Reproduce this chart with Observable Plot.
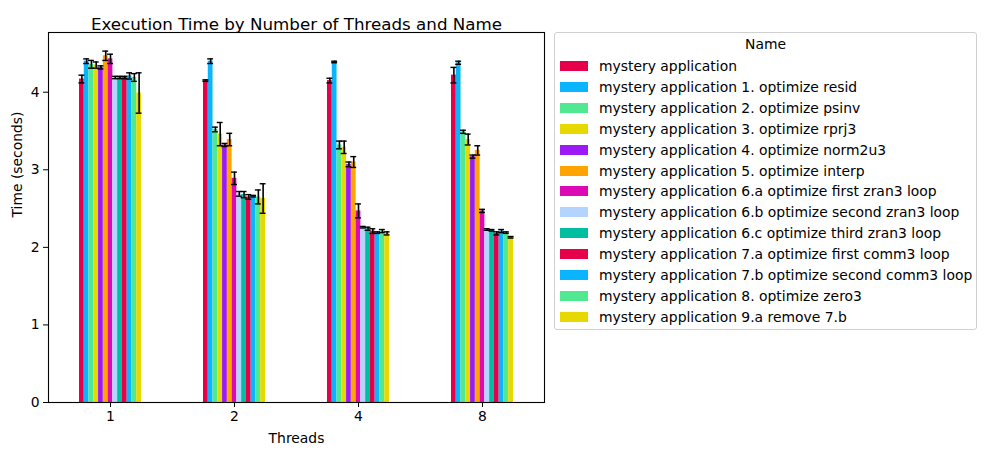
<!DOCTYPE html>
<html>
<head>
<meta charset="utf-8">
<script src="https://cdn.jsdelivr.net/npm/d3@7"></script>
<script src="https://cdn.jsdelivr.net/npm/@observablehq/plot@0.6"></script>
<style>
  body { margin: 0; background: #fff; font-family: "DejaVu Sans", sans-serif; }
  #wrap { position: relative; width: 987px; height: 455px; }
  #legend { position: absolute; left: 554px; top: 32px; width: 423px; height: 298px;
    border: 1px solid #d0d0d0; border-radius: 3px; box-sizing: border-box; background: #fff;
    font-size: 13.9px; color: #000; }
  #legend .ttl { position: absolute; left: 0; right: 0; top: 3px; text-align: center; }
  #legend .row { position: absolute; left: 5px; height: 20px; line-height: 20px; white-space: nowrap; }
  #legend .sw { display: inline-block; width: 28px; height: 10px; vertical-align: middle; margin-right: 11px; position: relative; top: -1px; }
</style>
</head>
<body>
<div id="wrap"></div>
<script>
const threads = ["1", "2", "4", "8"];
const names = [
  "mystery application",
  "mystery application 1. optimize resid",
  "mystery application 2. optimize psinv",
  "mystery application 3. optimize rprj3",
  "mystery application 4. optimize norm2u3",
  "mystery application 5. optimize interp",
  "mystery application 6.a optimize first zran3 loop",
  "mystery application 6.b optimize second zran3 loop",
  "mystery application 6.c optimize third zran3 loop",
  "mystery application 7.a optimize first comm3 loop",
  "mystery application 7.b optimize second comm3 loop",
  "mystery application 8. optimize zero3",
  "mystery application 9.a remove 7.b"
];
const colors = ["#e60049", "#0bb4ff", "#50e991", "#e6d800", "#9b19f5", "#ffa300", "#dc0ab4",
  "#b3d4ff", "#00bfa0", "#e60049", "#0bb4ff", "#50e991", "#e6d800"];
const yTicks = [0, 1, 2, 3, 4];

// mean time per name, one array per thread count
const mean1 = [4.17, 4.40, 4.36, 4.35, 4.32, 4.47, 4.43, 4.19, 4.19, 4.19, 4.21, 4.19, 3.99];
const mean2 = [4.15, 4.40, 3.52, 3.46, 3.32, 3.39, 2.89, 2.69, 2.68, 2.65, 2.66, 2.65, 2.63];
const mean4 = [4.15, 4.39, 3.32, 3.29, 3.07, 3.10, 2.47, 2.26, 2.24, 2.21, 2.19, 2.21, 2.18];
const mean8 = [4.22, 4.38, 3.49, 3.39, 3.17, 3.25, 2.47, 2.23, 2.22, 2.18, 2.21, 2.19, 2.13];
// error (half-length of error bar)
const err1 = [0.05, 0.03, 0.05, 0.04, 0.02, 0.06, 0.06, 0.015, 0.015, 0.015, 0.04, 0.05, 0.26];
const err2 = [0.01, 0.03, 0.03, 0.15, 0.02, 0.08, 0.08, 0.03, 0.04, 0.03, 0.01, 0.09, 0.19];
const err4 = [0.03, 0.01, 0.05, 0.08, 0.03, 0.07, 0.09, 0.01, 0.02, 0.03, 0.01, 0.02, 0.02];
const err8 = [0.10, 0.02, 0.02, 0.07, 0.02, 0.06, 0.02, 0.01, 0.01, 0.02, 0.02, 0.01, 0.01];

const means = [mean1, mean2, mean4, mean8];
const errs = [err1, err2, err4, err8];

// grouped-bar layout in category units (like pandas: group width 0.5, split among series)
const groupWidth = 0.5;
const barW = groupWidth / names.length;
const capHalf = barW * 0.62;
const rows = [];
threads.forEach((t, i) => names.forEach((n, j) => {
  const x1 = i - groupWidth / 2 + j * barW;
  const c = x1 + barW / 2;
  rows.push({thread: t, name: n, x1, x2: x1 + barW, c, cl: c - capHalf, cr: c + capHalf,
    value: means[i][j], lo: means[i][j] - errs[i][j], hi: means[i][j] + errs[i][j]});
}));

const chart = Plot.plot({
  width: 987,
  height: 455,
  marginLeft: 48,
  marginRight: 443,
  marginTop: 32,
  marginBottom: 53,
  style: {fontFamily: "DejaVu Sans, sans-serif", fontSize: "13.9px", color: "#000", background: "#fff"},
  x: {type: "linear", domain: [-0.5, threads.length - 0.5], ticks: d3.range(threads.length),
      tickFormat: i => threads[i], label: "Threads", labelAnchor: "center", labelOffset: 40,
      tickSize: 5, tickPadding: 4, labelArrow: "none"},
  y: {domain: [0, 4.77], ticks: yTicks, tickFormat: d3.format("d"), tickSize: 5, tickPadding: 4,
      label: null},
  color: {domain: names, range: colors},
  marks: [
    Plot.rectY(rows, {x1: "x1", x2: "x2", y: "value", fill: "name"}),
    Plot.ruleX(rows, {x: "c", y1: "lo", y2: "hi", stroke: "#000", strokeWidth: 1.6}),
    Plot.ruleY(rows, {y: "lo", x1: "cl", x2: "cr", stroke: "#000", strokeWidth: 1.4}),
    Plot.ruleY(rows, {y: "hi", x1: "cl", x2: "cr", stroke: "#000", strokeWidth: 1.4}),
    Plot.frame({stroke: "#000", strokeWidth: 1.1}),
    Plot.text(["Execution Time by Number of Threads and Name"], {frameAnchor: "top", dy: -14, fontSize: 16.7}),
    Plot.text(["Time (seconds)"], {frameAnchor: "left", dx: -31, rotate: -90})
  ]
});
document.getElementById("wrap").appendChild(chart);

const legend = document.createElement("div");
legend.id = "legend";
const ttl = document.createElement("div");
ttl.className = "ttl";
ttl.textContent = "Name";
legend.appendChild(ttl);
names.forEach((n, i) => {
  const row = document.createElement("div");
  row.className = "row";
  row.style.top = (23 + i * 20.9) + "px";
  const sw = document.createElement("span");
  sw.className = "sw";
  sw.style.background = colors[i];
  row.appendChild(sw);
  row.appendChild(document.createTextNode(n));
  legend.appendChild(row);
});
document.getElementById("wrap").appendChild(legend);
</script>
</body>
</html>
